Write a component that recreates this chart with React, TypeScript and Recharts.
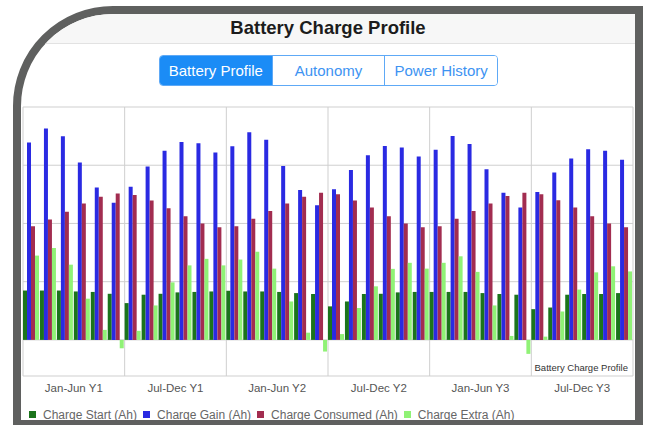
import React from 'react';
import { BarChart, Bar, XAxis, YAxis, CartesianGrid, Legend } from 'recharts';

// half-year sections shown on the x axis, 6 months each
const sections = ['Jan-Jun Y1', 'Jul-Dec Y1', 'Jan-Jun Y2', 'Jul-Dec Y2', 'Jan-Jun Y3', 'Jul-Dec Y3'];
const monthNames = ['Jan', 'Feb', 'Mar', 'Apr', 'May', 'Jun', 'Jul', 'Aug', 'Sep', 'Oct', 'Nov', 'Dec'];
const years = ['Y1', 'Y2', 'Y3'];
const months = years.flatMap((y) => monthNames.map((m) => `${m} ${y}`));

// values in Ah
const chargeStart = [
  21.2, 21.2, 21.2, 20.8, 20.6, 19.8, 15.8, 19.4, 19.8, 20.4, 20.6, 20.8,
  21.1, 20.8, 20.8, 20.6, 20.1, 19.7, 14.4, 16.5, 19.7, 19.8, 20.4, 20.6,
  20.6, 20.6, 20.6, 20.1, 19.7, 19.4, 13.2, 13.9, 19.4, 19.7, 19.7, 20.1,
];
const chargeGain = [
  84.8, 90.8, 87.4, 76.2, 65.4, 58.9, 65.8, 74.4, 81.2, 85.0, 84.4, 80.5,
  83.2, 89.2, 85.9, 74.7, 64.4, 57.8, 64.7, 73.0, 79.3, 83.3, 82.6, 78.7,
  81.6, 87.6, 84.1, 73.3, 63.2, 56.8, 63.5, 71.9, 77.9, 81.9, 81.2, 77.3,
];
const chargeConsumed = [
  48.8, 51.7, 55.0, 58.6, 61.5, 62.9, 62.2, 59.9, 56.5, 53.1, 50.0, 48.4,
  48.8, 52.0, 55.3, 58.6, 61.5, 63.2, 62.5, 59.9, 56.8, 53.1, 50.0, 48.4,
  48.8, 52.0, 55.3, 58.6, 61.8, 63.2, 62.5, 60.0, 56.8, 53.1, 50.0, 48.4,
];
const chargeExtra = [
  36.2, 39.5, 32.3, 17.7, 4.3, -3.6, 3.9, 14.8, 24.7, 32.0, 34.8, 32.0,
  34.5, 37.8, 30.6, 16.5, 3.1, -5.0, 2.5, 13.7, 23.0, 30.5, 33.1, 30.6,
  33.1, 35.9, 29.2, 14.8, 1.7, -6.0, 1.4, 12.2, 21.6, 29.0, 31.6, 29.4,
];
const yTicks = [-15.5, 0, 25, 50, 75, 100];

const series = [
  { key: 'start', name: 'Charge Start (Ah)', color: '#1b741b' },
  { key: 'gain', name: 'Charge Gain (Ah)', color: '#2a2ae2' },
  { key: 'consumed', name: 'Charge Consumed (Ah)', color: '#a22d50' },
  { key: 'extra', name: 'Charge Extra (Ah)', color: '#90f276' },
];

const data = months.map((month, i) => ({
  month,
  start: chargeStart[i],
  gain: chargeGain[i],
  consumed: chargeConsumed[i],
  extra: chargeExtra[i],
}));

const FONT = '"Liberation Sans", Arial, sans-serif';
const CHART_W = 614;
const CHART_H = 320;
const MARGIN = { top: 7, right: 2, bottom: 0, left: 2 };
const PLOT_W = CHART_W - MARGIN.left - MARGIN.right;
const BAND = PLOT_W / months.length;

// one label per half year, centred between the 3rd and 4th month
const SectionTick = (props: any) => {
  const { x, y, index } = props;
  if (index % 6 !== 2) return <g />;
  return (
    <text x={x + BAND / 2} y={y} dy={16} textAnchor="middle" fill="#555" fontSize={11.5} fontFamily={FONT}>
      {sections[Math.floor(index / 6)]}
    </text>
  );
};

const LegendContent = () => (
  <div
    style={{
      display: 'flex',
      alignItems: 'center',
      height: 22,
      paddingTop: 11,
      paddingLeft: 6,
      boxSizing: 'border-box',
      fontFamily: FONT,
      fontSize: 12,
      color: '#666',
      whiteSpace: 'nowrap',
    }}
  >
    {series.map((s) => (
      <span key={s.key} style={{ display: 'flex', alignItems: 'center', marginRight: 6 }}>
        <span style={{ width: 7, height: 7, background: s.color, marginRight: 7, display: 'inline-block' }} />
        {s.name}
      </span>
    ))}
  </div>
);

const segments = ['Battery Profile', 'Autonomy', 'Power History'];

export default function App() {
  return (
    <div
      style={{
        position: 'fixed',
        top: 0,
        left: 0,
        width: 648,
        height: 425,
        overflow: 'hidden',
        background: '#fff',
        fontFamily: FONT,
      }}
    >
      <div
        style={{
          position: 'absolute',
          left: 13,
          top: 6,
          width: 614,
          height: 406,
          border: '8px solid #5f605f',
          borderTopLeftRadius: 100,
          overflow: 'hidden',
          background: '#fff',
        }}
      >
        {/* nav bar */}
        <div
          style={{
            position: 'absolute',
            left: 0,
            top: 0,
            width: 614,
            height: 29,
            background: '#f7f7f7',
            borderBottom: '1px solid #e2e2e2',
            textAlign: 'center',
            lineHeight: '27px',
            fontWeight: 'bold',
            fontSize: 18.5,
            color: '#1c1c1c',
          }}
        >
          Battery Charge Profile
        </div>

        {/* segmented control */}
        <div
          style={{
            position: 'absolute',
            left: 138,
            top: 41,
            width: 339,
            height: 31,
            display: 'flex',
            border: '1px solid #5ea9f6',
            borderRadius: 4,
            overflow: 'hidden',
            boxSizing: 'border-box',
          }}
        >
          {segments.map((s, i) => (
            <div
              key={s}
              style={{
                flex: 1,
                textAlign: 'center',
                lineHeight: '29px',
                fontSize: 15,
                background: i === 0 ? '#1b8cf6' : '#fff',
                color: i === 0 ? '#fff' : '#3d93f2',
                borderLeft: i > 0 ? '1px solid #5ea9f6' : 'none',
              }}
            >
              {s}
            </div>
          ))}
        </div>

        <div style={{ position: 'absolute', left: 0, top: 86 }}>
          <BarChart
            width={CHART_W}
            height={CHART_H}
            data={data}
            margin={MARGIN}
            barCategoryGap={0}
            barGap={0}
          >
            <CartesianGrid
              stroke="#cfcfcf"
              verticalCoordinatesGenerator={({ offset }: any) =>
                Array.from({ length: sections.length + 1 }, (_, k) => offset.left + (k * offset.width) / sections.length)
              }
            />
            <XAxis
              dataKey="month"
              interval={0}
              tickLine={false}
              axisLine={false}
              tickSize={0}
              tickMargin={0}
              height={22}
              tick={<SectionTick />}
            />
            <YAxis hide domain={[-15.5, 100]} ticks={yTicks} allowDataOverflow />
            <Legend verticalAlign="bottom" content={() => <LegendContent />} />
            {series.map((s) => (
              <Bar key={s.key} dataKey={s.key} name={s.name} fill={s.color} isAnimationActive={false} />
            ))}
          </BarChart>
        </div>

        {/* chart description label */}
        <div
          style={{
            position: 'absolute',
            right: 7,
            top: 348,
            fontSize: 9.5,
            lineHeight: '11px',
            color: '#333',
          }}
        >
          Battery Charge Profile
        </div>
      </div>
    </div>
  );
}
